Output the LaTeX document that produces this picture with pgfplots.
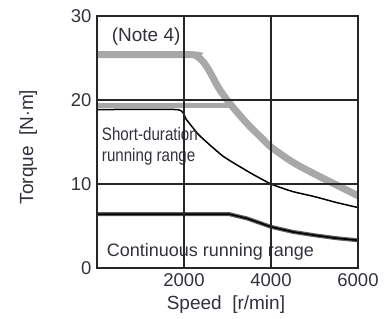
\documentclass[border=0pt]{standalone}
\usepackage{pgfplots}
\pgfplotsset{compat=1.18}
\usepackage{fontspec}
\setmainfont{Liberation Sans}
\usepackage{graphicx}
\definecolor{band}{RGB}{168,168,168}
\definecolor{txt}{RGB}{50,50,60}
\definecolor{cont}{RGB}{95,95,95}
\begin{document}
\begin{tikzpicture}
\begin{axis}[
  scale only axis,
  width=261bp, height=252bp,
  xmin=0, xmax=6000, ymin=0, ymax=30,
  xtick={2000,4000,6000}, ytick={0,10,20,30},
  grid=major,
  grid style={line width=1.1bp, black!85},
  axis line style={line width=1.8bp, black!85},
  major tick length=0pt,
  axis on top,
  /pgf/number format/assume math mode=true,
  scaled x ticks=false,
  xticklabel style={/pgf/number format/1000 sep={}},
  tick label style={font=\fontsize{18.5bp}{20bp}\selectfont, text=txt},
  xticklabel style={yshift=-2bp},
  yticklabel style={xshift=-2bp},
  xlabel={Speed\ \ [r/min]},
  ylabel={Torque\ \ [N$\cdot$m]},
  every axis x label/.style={at={(axis description cs:0.494,-0.147)}, anchor=center,
     font=\fontsize{19bp}{21bp}\selectfont, text=txt},
  every axis y label/.style={at={(axis description cs:-0.264,0.48)}, rotate=90, anchor=center,
     font=\fontsize{19bp}{21bp}\selectfont, text=txt},
]
% Note 4 curve (gray thick)
\addplot[band, line width=7bp, smooth, tension=0.5] coordinates {
 (0,25.4) (2100,25.4) (2300,25.2) (2450,24.5) (2600,23.3) (2800,21.4) (3050,19.6)
 (3450,17.2) (3800,15.4) (4000,14.4) (4500,12.6) (5000,11.2) (5500,9.9) (6000,8.6)};
% lower gray flat line
\addplot[band, line width=4.5bp] coordinates {(0,19.35) (3100,19.35)};
% continuous range: thick dark band
\addplot[cont, line width=4bp, line join=round] coordinates {
 (0,6.4) (3050,6.4) (3450,5.9) (4000,4.9) (4500,4.3) (5000,3.9) (5500,3.55) (6000,3.3)};
\addplot[black, line width=1.6bp, line join=round] coordinates {
 (0,6.4) (3050,6.4) (3450,5.9) (4000,4.9) (4500,4.3) (5000,3.9) (5500,3.55) (6000,3.3)};
% short-duration curve (black thin)
\addplot[black, line width=1.5bp, smooth, tension=0.3] coordinates {
 (0,18.85) (1850,18.85) (2050,17.7) (2350,15.8) (2900,13.3) (3500,11.4)
 (4000,10.0) (4500,9.1) (5000,8.5) (5500,7.8) (6000,7.2)};
\node[text=txt, font=\fontsize{19bp}{21bp}\selectfont] at (axis cs:1130,27.5) {(Note 4)};
\node[text=txt, anchor=north west, inner sep=0pt, align=left, font=\fontsize{18bp}{21bp}\selectfont]
  at (axis cs:110,16.8) {\scalebox{0.84}[1]{Short-duration}\\\scalebox{0.84}[1]{running range}};
\node[text=txt, anchor=west, inner sep=0pt, font=\fontsize{18bp}{20bp}\selectfont]
  at (axis cs:220,1.9) {Continuous running range};
\end{axis}
\path (current axis.south west) ++(-97bp,-51bp) rectangle ++(392bp,319bp);
\end{tikzpicture}
\end{document}
